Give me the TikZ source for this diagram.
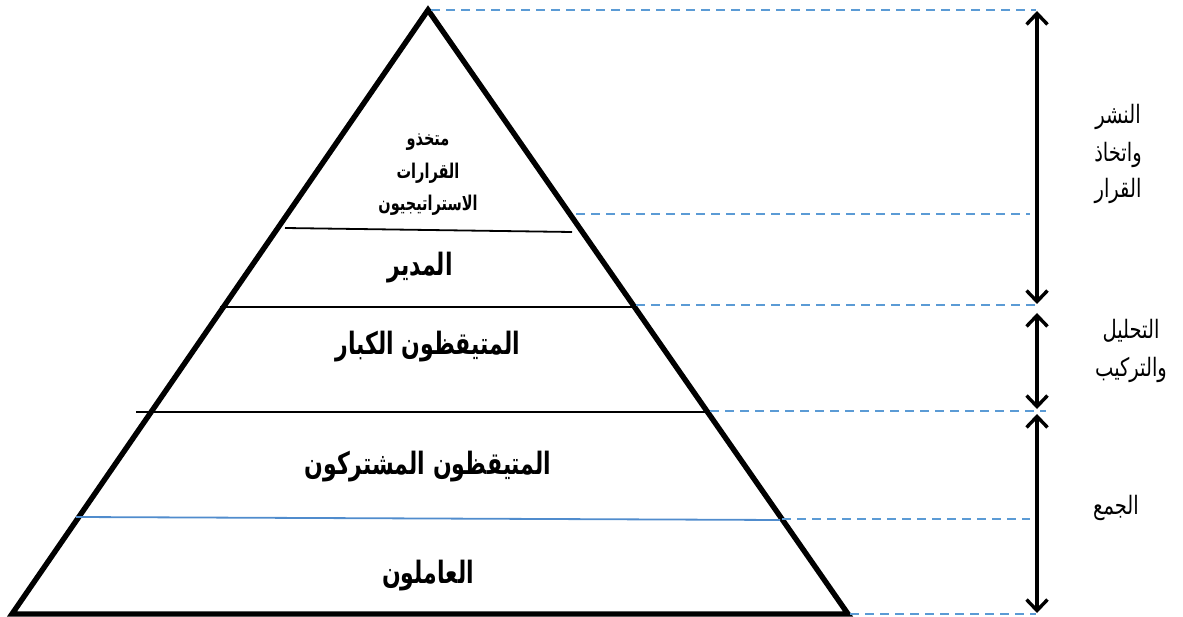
\documentclass[tikz,border=0pt]{standalone}
\usepackage{fontspec}
\setmainfont{Liberation Sans}
\newfontfamily\arabicfont[Script=Arabic]{DejaVu Sans}
\TeXXeTstate=1
\usetikzlibrary{arrows.meta}
\definecolor{dashblue}{RGB}{91,155,213}
\definecolor{lineblue}{RGB}{80,140,205}
\newcommand{\tallbox}[2]{\scalebox{1}[#1]{#2}}
\begin{document}
\begin{tikzpicture}[x=1pt,y=-1pt,
  pyr/.style={line width=5.4pt, line join=miter},
  level/.style={line width=1.8pt, black},
  guide/.style={dashblue, line width=1.4pt, dash pattern=on 9pt off 6pt},
  span/.style={line width=3.8pt, {Straight Barb[length=11pt,width=21pt,line width=3.4pt]}-{Straight Barb[length=11pt,width=21pt,line width=3.4pt]}},
  big/.style={font=\arabicfont\bfseries\fontsize{22}{26}\selectfont, inner sep=0pt},
  small/.style={font=\arabicfont\bfseries\fontsize{14.5}{16}\selectfont, inner sep=0pt},
  side/.style={font=\arabicfont\fontsize{19.5}{22}\selectfont, inner sep=0pt}]
\useasboundingbox (0,0) rectangle (1183,617);
% pyramid
\coordinate (apex) at (428,10);
\coordinate (bl) at (12,614);
\coordinate (br) at (848,614);
\draw[pyr] (bl) -- (apex) -- (br) -- cycle;
% level lines
\coordinate (l1a) at (285,228); \coordinate (l1b) at (572,232);
\coordinate (l2a) at (220,307); \coordinate (l2b) at (634,307);
\coordinate (l3a) at (136,412); \coordinate (l3b) at (708,412);
\coordinate (l4a) at (76,517);  \coordinate (l4b) at (780,520);
\draw[level] (l1a) -- (l1b);
\draw[level] (l2a) -- (l2b);
\draw[level] (l3a) -- (l3b);
\draw[lineblue, line width=1.8pt] (l4a) -- (l4b);
% guides
\coordinate (g0a) at (431,10);  \coordinate (g0b) at (1036,10);
\coordinate (g1a) at (576,214); \coordinate (g1b) at (1030,214);
\coordinate (g2a) at (636,305); \coordinate (g2b) at (1036,305);
\coordinate (g3a) at (710,411); \coordinate (g3b) at (1046,411);
\coordinate (g4a) at (782,519); \coordinate (g4b) at (1030,519);
\coordinate (g5a) at (850,614); \coordinate (g5b) at (1036,614);
\foreach \i in {0,...,5} \draw[guide] (g\i a) -- (g\i b);
% spans
\coordinate (s0) at (1037,11);
\coordinate (s1) at (1037,304);
\coordinate (s2) at (1037,313);
\coordinate (s3) at (1037,409);
\coordinate (s4) at (1037,414);
\coordinate (s5) at (1037,613);
\draw[span] (s0) -- (s1);
\draw[span] (s2) -- (s3);
\draw[span] (s4) -- (s5);
% labels
\node[small] (t1) at (428,142) {\tallbox{1.4}{\beginR متخذو\endR}};
\node[small] (t2) at (428,173) {\tallbox{1.4}{\beginR القرارات\endR}};
\node[small] (t3) at (428,205) {\tallbox{1.4}{\beginR الاستراتيجيون\endR}};
\node[big] (t4) at (420,268) {\tallbox{1.4}{\beginR المدير\endR}};
\node[big] (t5) at (428,347) {\tallbox{1.4}{\beginR المتيقظون الكبار\endR}};
\node[big] (t6) at (428,467) {\tallbox{1.4}{\beginR المتيقظون المشتركون\endR}};
\node[big] (t7) at (428,576) {\tallbox{1.4}{\beginR العاملون\endR}};
\node[side] (r1) at (1118,117) {\tallbox{1.3}{\beginR النشر\endR}};
\node[side] (r2) at (1118,155) {\tallbox{1.3}{\beginR واتخاذ\endR}};
\node[side] (r3) at (1118,191) {\tallbox{1.3}{\beginR القرار\endR}};
\node[side] (r4) at (1131,331) {\tallbox{1.3}{\beginR التحليل\endR}};
\node[side] (r5) at (1131,370) {\tallbox{1.3}{\beginR والتركيب\endR}};
\node[side] (r6) at (1116,508) {\tallbox{1.3}{\beginR الجمع\endR}};
\end{tikzpicture}
\end{document}
